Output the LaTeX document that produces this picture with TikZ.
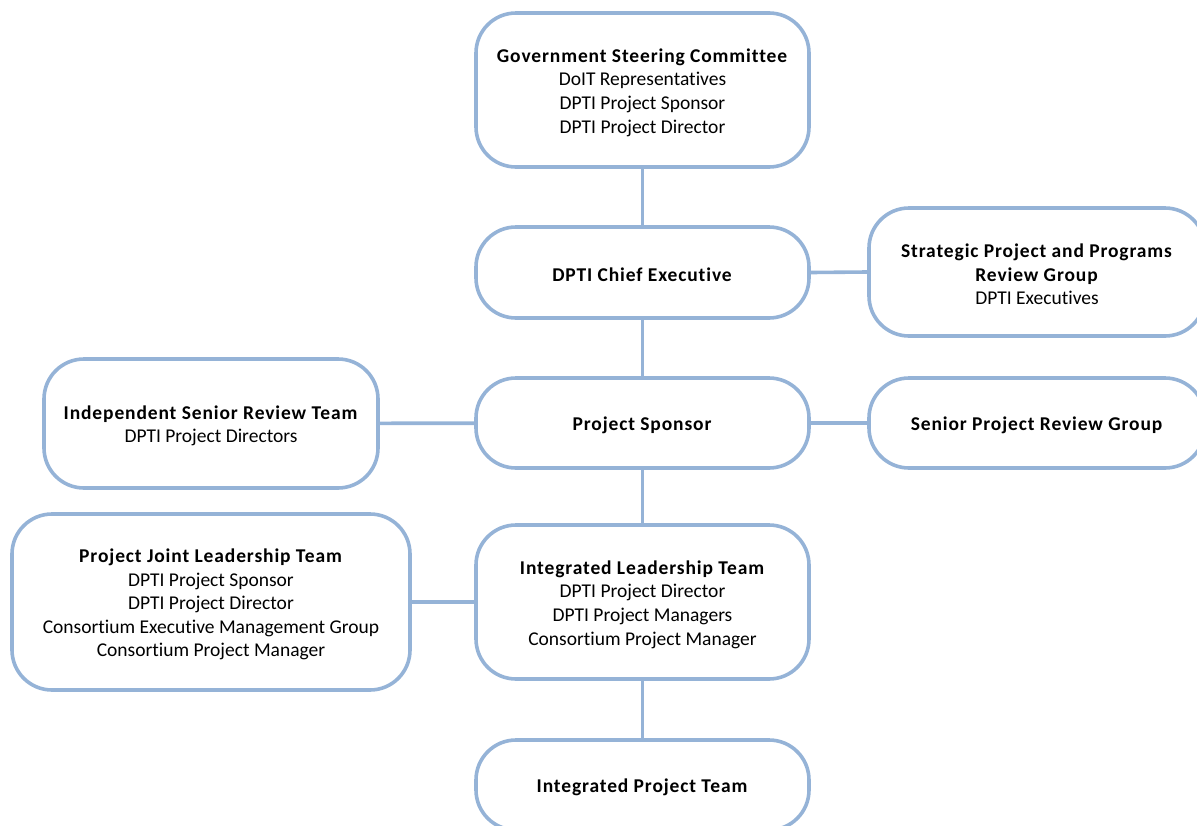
\documentclass[tikz,border=0pt]{standalone}
\usepackage{fontspec}
\setmainfont{Carlito}[Ligatures={NoCommon}, BoldFeatures={LetterSpace=4.5}]
\definecolor{boxblue}{HTML}{95B3D7}
\begin{document}
\begin{tikzpicture}[x=1pt,y=-1pt,
  box/.style={draw=boxblue, line width=3.6pt, rounded corners=40pt, fill=white, inner sep=0pt},
  boxtext/.style={align=center, inner sep=0pt, yshift=-2.5pt, font=\fontsize{19.5}{23.6}\selectfont},
  link/.style={draw=boxblue, line width=3.6pt}]
\useasboundingbox (0,0) rectangle (1197,825);
\clip (0,0) rectangle (1197,825);
\node[box, minimum width=333pt, minimum height=154pt,
  label={[boxtext]center:{\textbf{Government Steering Committee}\\DoIT Representatives\\DPTI Project Sponsor\\DPTI Project Director}}] (gsc) at (642.5,90) {};
\node[box, minimum width=333pt, minimum height=91pt,
  label={[boxtext]center:{\textbf{DPTI Chief Executive}}}] (ce) at (642.5,272.5) {};
\node[box, minimum width=336pt, minimum height=128pt,
  label={[boxtext]center:{\textbf{Strategic Project and Programs}\\\textbf{Review Group}\\DPTI Executives}}] (spprg) at (1037,272) {};
\node[box, minimum width=334pt, minimum height=129pt,
  label={[boxtext]center:{\textbf{Independent Senior Review Team}\\DPTI Project Directors}}] (isrt) at (211,423.5) {};
\node[box, minimum width=333pt, minimum height=90pt,
  label={[boxtext]center:{\textbf{Project Sponsor}}}] (ps) at (642.5,423) {};
\node[box, minimum width=336pt, minimum height=90pt,
  label={[boxtext]center:{\textbf{Senior Project Review Group}}}] (sprg) at (1037,423) {};
\node[box, minimum width=398pt, minimum height=176pt,
  label={[boxtext]center:{\textbf{Project Joint Leadership Team}\\DPTI Project Sponsor\\DPTI Project Director\\Consortium Executive Management Group\\Consortium Project Manager}}] (pjlt) at (211,602) {};
\node[box, minimum width=333pt, minimum height=154pt,
  label={[boxtext]center:{\textbf{Integrated Leadership Team}\\DPTI Project Director\\DPTI Project Managers\\Consortium Project Manager}}] (ilt) at (642.5,602) {};
\node[box, minimum width=333pt, minimum height=90pt,
  label={[boxtext]center:{\textbf{Integrated Project Team}}}] (ipt) at (642.5,785) {};
\draw[link] (gsc) -- (ce);
\draw[link] (ce.east) -- (spprg.west);
\draw[link] (ce) -- (ps);
\draw[link] (ps) -- (isrt);
\draw[link] (ps) -- (sprg);
\draw[link] (ps) -- (ilt);
\draw[link] (ilt) -- (pjlt);
\draw[link] (ilt) -- (ipt);
\end{tikzpicture}
\end{document}
